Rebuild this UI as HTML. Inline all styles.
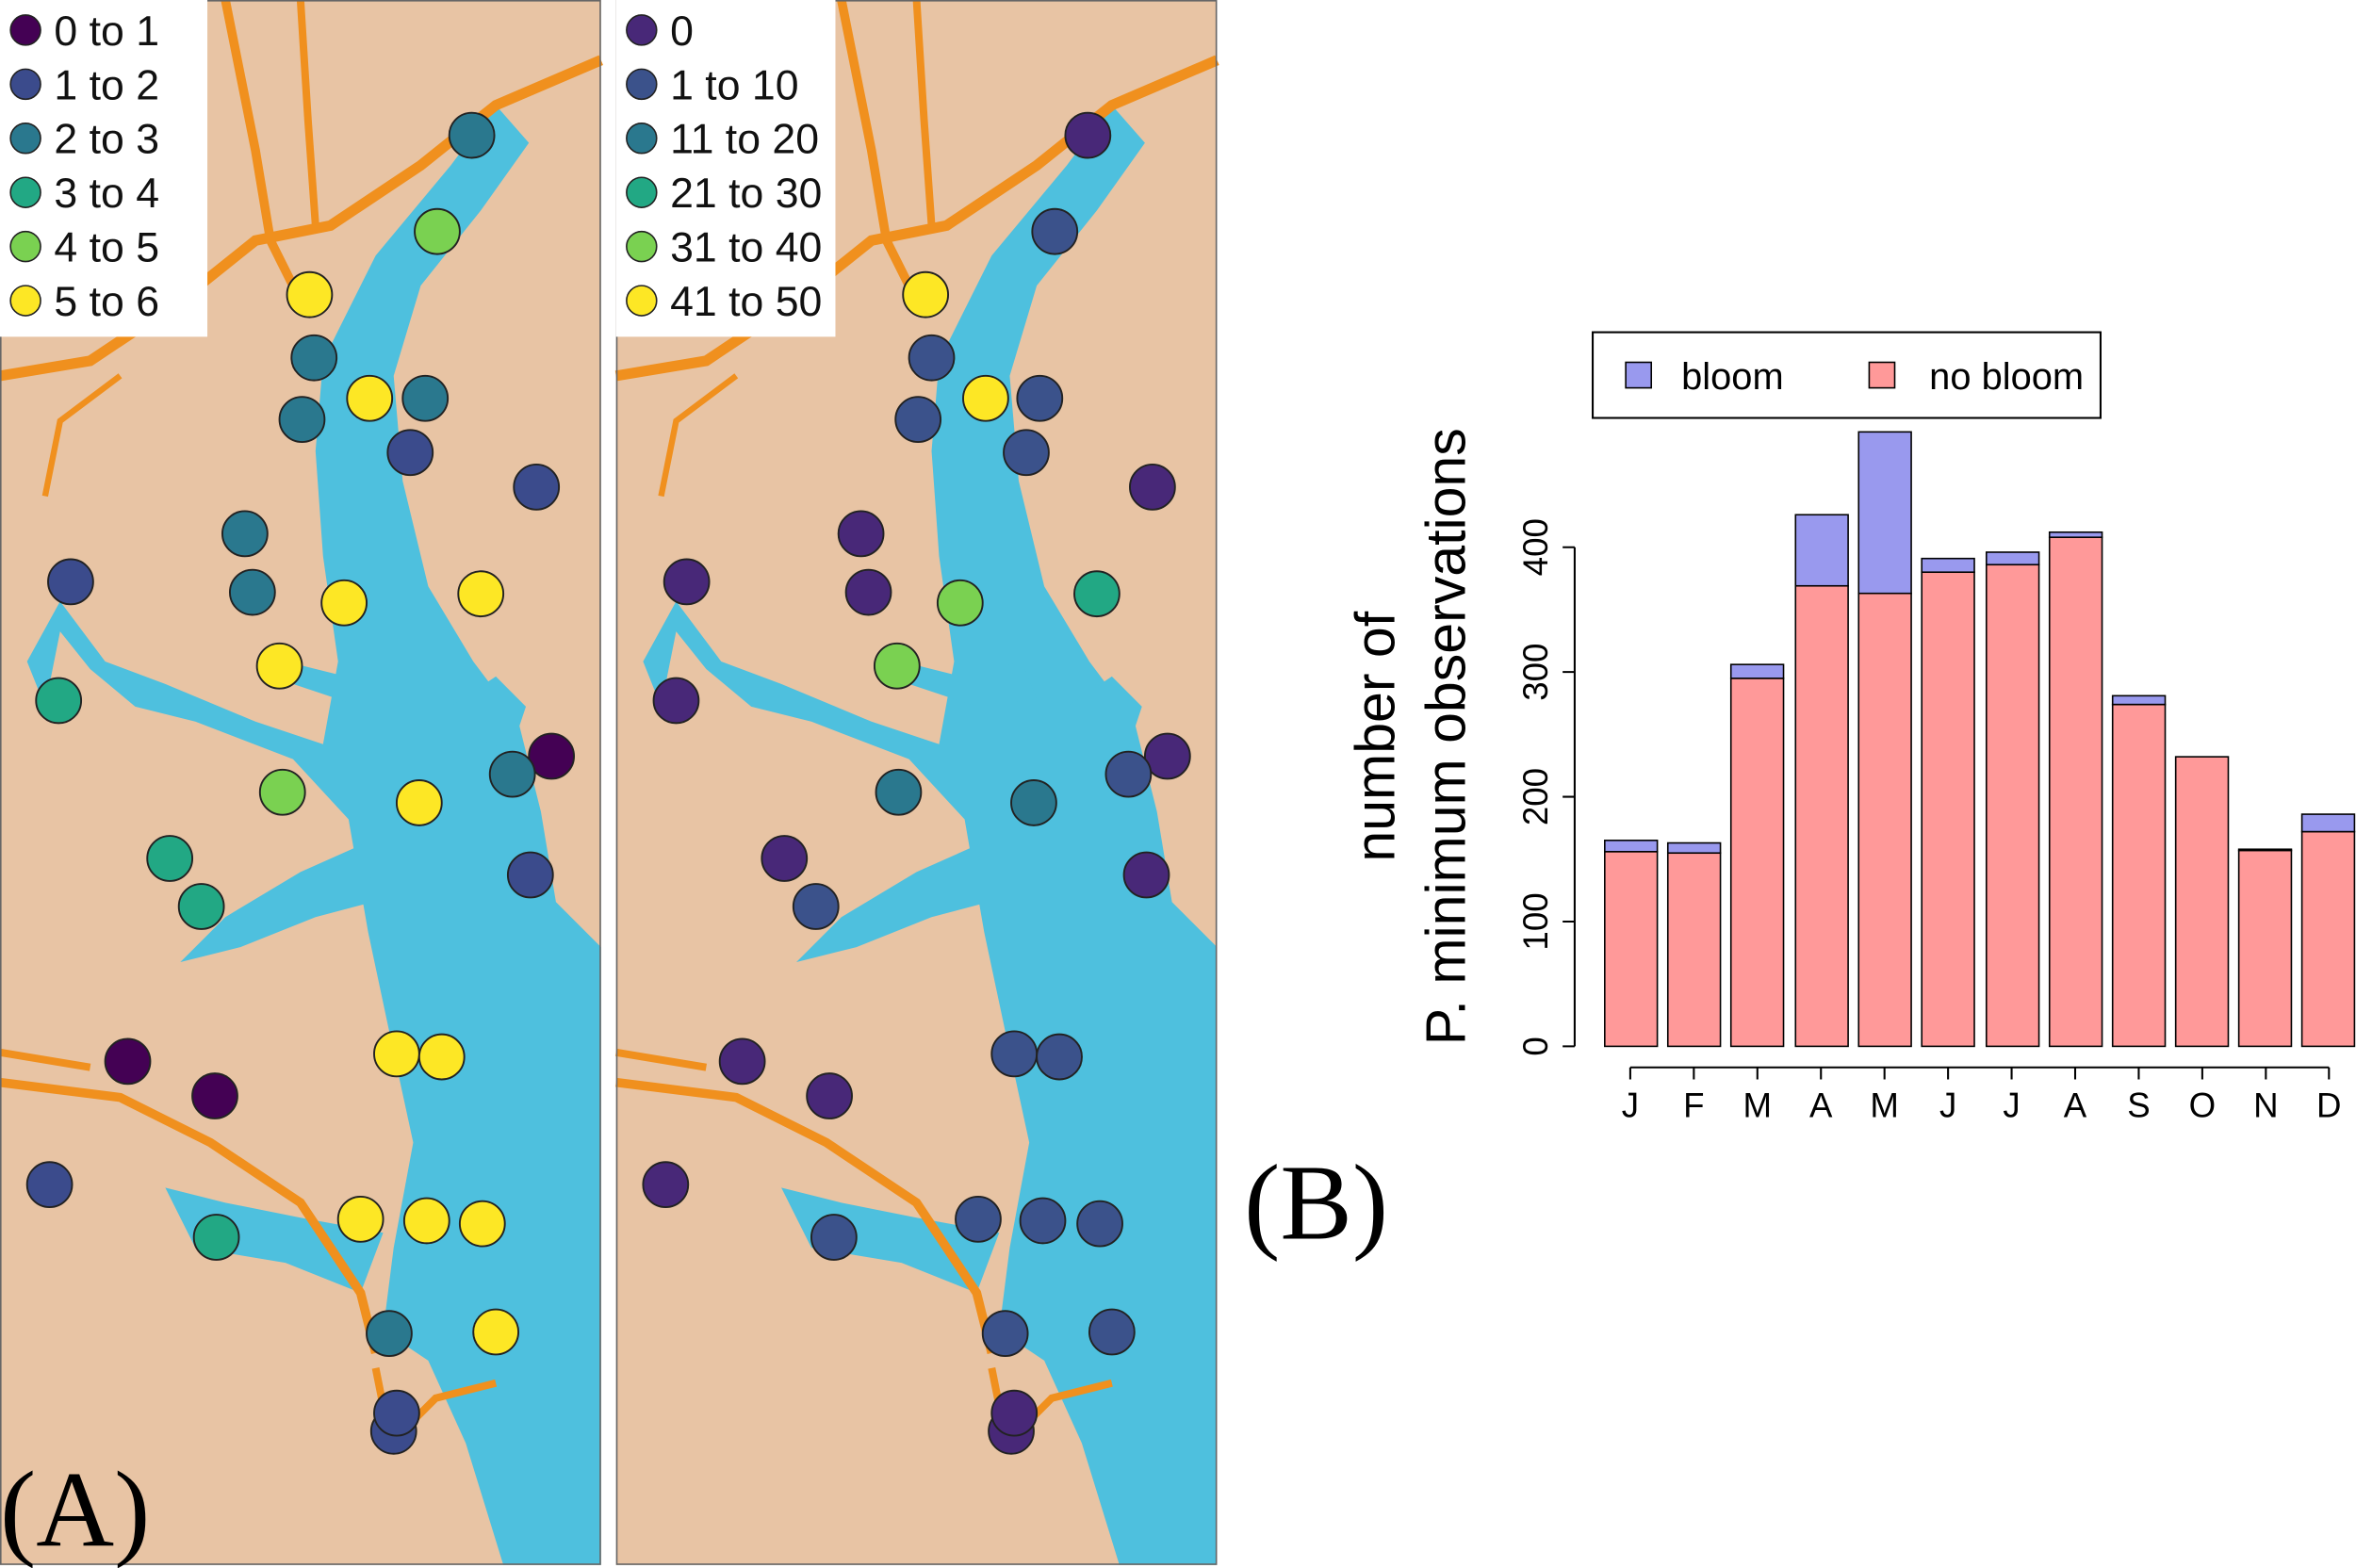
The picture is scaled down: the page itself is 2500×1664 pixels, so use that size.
<!DOCTYPE html>
<html><head><meta charset="utf-8"><style>
html,body{margin:0;padding:0;background:#fff;}
svg{display:block;}
text{font-family:"Liberation Sans",sans-serif;}
</style></head><body>
<svg width="2500" height="1664" viewBox="0 0 1568 1043" preserveAspectRatio="none" xmlns="http://www.w3.org/2000/svg">
<defs>
<g id="map">
<rect x="0" y="0" width="400" height="1041" fill="#e8c4a4"/>
<path d="M330,70 L352,95 L320,140 L280,190 L262,250 L268,320 L285,390 L315,440 L345,480 L360,540 L370,600 L400,630 L400,1041 L335,1041 L310,960 L285,905 L255,885 L262,830 L275,760 L262,700 L245,620 L232,545 L195,505 L130,480 L90,470 L60,445 L40,420 L30,470 L18,440 L40,400 L70,440 L110,455 L170,480 L215,495 L225,440 L215,370 L210,300 L215,240 L250,170 L300,110 Z" fill="#4ec0de"/>
<path d="M245,560 L200,580 L150,610 L120,640 L160,630 L210,610 L248,600 Z" fill="#4ec0de"/>
<path d="M270,440 L230,450 L190,440 L195,455 L240,470 L280,465 Z" fill="#4ec0de"/>
<path d="M300,470 L330,450 L350,470 L340,500 L315,490 Z" fill="#4ec0de"/>
<path d="M255,820 L200,810 L150,800 L110,790 L130,830 L190,840 L240,860 Z" fill="#4ec0de"/>
<path d="M0,720 L80,730 L140,760 L200,800 L240,860 L250,900" fill="none" stroke="#f0901e" stroke-width="6"/>
<path d="M0,700 L60,710" fill="none" stroke="#f0901e" stroke-width="5"/>
<path d="M0,250 L60,240 L120,200 L170,160 L220,150 L280,110 L330,70 L400,40" fill="none" stroke="#f0901e" stroke-width="7"/>
<path d="M150,0 L170,100 L180,160 L200,200" fill="none" stroke="#f0901e" stroke-width="6"/>
<path d="M200,0 L205,80 L210,150" fill="none" stroke="#f0901e" stroke-width="5"/>
<path d="M30,330 L40,280 L80,250" fill="none" stroke="#f0901e" stroke-width="4"/>
<path d="M250,910 L260,960 L290,930 L330,920" fill="none" stroke="#f0901e" stroke-width="5"/>
<rect x="0.5" y="0.5" width="399" height="1040" fill="none" stroke="#666" stroke-width="1"/>
</g>
</defs>
<rect width="1568" height="1043" fill="#fff"/>
<use href="#map" x="0" y="0"/>
<use href="#map" x="410" y="0"/>
<g stroke="#222" stroke-width="1.2">
<circle cx="314" cy="90" r="15" fill="#2a788e"/><circle cx="291" cy="154" r="15" fill="#7ad151"/>
<circle cx="206" cy="196" r="15" fill="#fde725"/><circle cx="209" cy="238" r="15" fill="#2a788e"/>
<circle cx="201" cy="279" r="15" fill="#2a788e"/><circle cx="246" cy="265" r="15" fill="#fde725"/>
<circle cx="283" cy="265" r="15" fill="#2a788e"/><circle cx="273" cy="301" r="15" fill="#3b4b8c"/>
<circle cx="357" cy="324" r="15" fill="#3b4b8c"/><circle cx="163" cy="355" r="15" fill="#2a788e"/>
<circle cx="168" cy="394" r="15" fill="#2a788e"/><circle cx="229" cy="401" r="15" fill="#fde725"/>
<circle cx="320" cy="395" r="15" fill="#fde725"/><circle cx="47" cy="387" r="15" fill="#3b4b8c"/>
<circle cx="186" cy="443" r="15" fill="#fde725"/><circle cx="39" cy="466" r="15" fill="#22a884"/>
<circle cx="367" cy="503" r="15" fill="#440154"/><circle cx="341" cy="515" r="15" fill="#2a788e"/>
<circle cx="188" cy="527" r="15" fill="#7ad151"/><circle cx="279" cy="534" r="15" fill="#fde725"/>
<circle cx="113" cy="571" r="15" fill="#22a884"/><circle cx="134" cy="603" r="15" fill="#22a884"/>
<circle cx="353" cy="582" r="15" fill="#3b4b8c"/><circle cx="264" cy="701" r="15" fill="#fde725"/>
<circle cx="294" cy="703" r="15" fill="#fde725"/><circle cx="85" cy="706" r="15" fill="#440154"/>
<circle cx="143" cy="729" r="15" fill="#440154"/><circle cx="33" cy="788" r="15" fill="#3b4b8c"/>
<circle cx="240" cy="811" r="15" fill="#fde725"/><circle cx="284" cy="812" r="15" fill="#fde725"/>
<circle cx="321" cy="814" r="15" fill="#fde725"/><circle cx="144" cy="823" r="15" fill="#22a884"/>
<circle cx="259" cy="887" r="15" fill="#2a788e"/><circle cx="330" cy="886" r="15" fill="#fde725"/>
<circle cx="262" cy="952" r="15" fill="#3b4b8c"/><circle cx="264" cy="940" r="15" fill="#3b4b8c"/>
<circle cx="724" cy="90" r="15" fill="#482878"/><circle cx="702" cy="154" r="15" fill="#3b528b"/>
<circle cx="616" cy="196" r="15" fill="#fde725"/><circle cx="620" cy="238" r="15" fill="#3b528b"/>
<circle cx="611" cy="279" r="15" fill="#3b528b"/><circle cx="656" cy="265" r="15" fill="#fde725"/>
<circle cx="692" cy="265" r="15" fill="#3b528b"/><circle cx="683" cy="301" r="15" fill="#3b528b"/>
<circle cx="767" cy="324" r="15" fill="#482878"/><circle cx="573" cy="355" r="15" fill="#482878"/>
<circle cx="578" cy="394" r="15" fill="#482878"/><circle cx="639" cy="401" r="15" fill="#7ad151"/>
<circle cx="730" cy="395" r="15" fill="#22a884"/><circle cx="457" cy="387" r="15" fill="#482878"/>
<circle cx="597" cy="443" r="15" fill="#7ad151"/><circle cx="450" cy="466" r="15" fill="#482878"/>
<circle cx="777" cy="503" r="15" fill="#482878"/><circle cx="751" cy="515" r="15" fill="#3b528b"/>
<circle cx="598" cy="527" r="15" fill="#2a788e"/><circle cx="688" cy="534" r="15" fill="#2a788e"/>
<circle cx="522" cy="571" r="15" fill="#482878"/><circle cx="543" cy="603" r="15" fill="#3b528b"/>
<circle cx="763" cy="582" r="15" fill="#482878"/><circle cx="675" cy="701" r="15" fill="#3b528b"/>
<circle cx="705" cy="703" r="15" fill="#3b528b"/><circle cx="494" cy="706" r="15" fill="#482878"/>
<circle cx="552" cy="729" r="15" fill="#482878"/><circle cx="443" cy="788" r="15" fill="#482878"/>
<circle cx="651" cy="811" r="15" fill="#3b528b"/><circle cx="694" cy="812" r="15" fill="#3b528b"/>
<circle cx="732" cy="814" r="15" fill="#3b528b"/><circle cx="555" cy="823" r="15" fill="#3b528b"/>
<circle cx="669" cy="887" r="15" fill="#3b528b"/><circle cx="740" cy="886" r="15" fill="#3b528b"/>
<circle cx="673" cy="952" r="15" fill="#482878"/><circle cx="675" cy="940" r="15" fill="#482878"/>
</g>
<rect x="0" y="0" width="138" height="224" fill="#fff"/>
<g stroke="#222" stroke-width="1">
<circle cx="17" cy="20" r="10" fill="#440154"/><circle cx="17" cy="56" r="10" fill="#3b4b8c"/>
<circle cx="17" cy="92" r="10" fill="#2a788e"/><circle cx="17" cy="128" r="10" fill="#22a884"/>
<circle cx="17" cy="164" r="10" fill="#7ad151"/><circle cx="17" cy="200" r="10" fill="#fde725"/>
</g>
<g font-size="28" fill="#111">
<text x="36" y="30">0 to 1</text><text x="36" y="66">1 to 2</text><text x="36" y="102">2 to 3</text>
<text x="36" y="138">3 to 4</text><text x="36" y="174">4 to 5</text><text x="36" y="210">5 to 6</text>
</g>
<rect x="410" y="0" width="146" height="224" fill="#fff"/>
<g stroke="#222" stroke-width="1">
<circle cx="427" cy="20" r="10" fill="#482878"/><circle cx="427" cy="56" r="10" fill="#3b528b"/>
<circle cx="427" cy="92" r="10" fill="#2a788e"/><circle cx="427" cy="128" r="10" fill="#22a884"/>
<circle cx="427" cy="164" r="10" fill="#7ad151"/><circle cx="427" cy="200" r="10" fill="#fde725"/>
</g>
<g font-size="28" fill="#111">
<text x="446" y="30">0</text><text x="446" y="66">1 to 10</text><text x="446" y="102">11 to 20</text>
<text x="446" y="138">21 to 30</text><text x="446" y="174">31 to 40</text><text x="446" y="210">41 to 50</text>
</g>
<text x="0" y="1028" font-size="72" fill="#000" style="font-family:'Liberation Serif',serif">(A)</text>
<text x="828" y="824" font-size="72" fill="#000" style="font-family:'Liberation Serif',serif">(B)</text>
<g stroke="#000" stroke-width="1">
<rect x="1068" y="566.5" width="35" height="129.5" fill="#ff9999"/><rect x="1068" y="559" width="35" height="7.5" fill="#9999ee"/>
<rect x="1110" y="567.4" width="35" height="128.6" fill="#ff9999"/><rect x="1110" y="560.7" width="35" height="6.7" fill="#9999ee"/>
<rect x="1152" y="451.2" width="35" height="244.8" fill="#ff9999"/><rect x="1152" y="442" width="35" height="9.2" fill="#9999ee"/>
<rect x="1195" y="389.7" width="35" height="306.3" fill="#ff9999"/><rect x="1195" y="342.4" width="35" height="47.3" fill="#9999ee"/>
<rect x="1237" y="394.7" width="35" height="301.3" fill="#ff9999"/><rect x="1237" y="287.3" width="35" height="107.4" fill="#9999ee"/>
<rect x="1279" y="380.6" width="35" height="315.4" fill="#ff9999"/><rect x="1279" y="371.5" width="35" height="9.1" fill="#9999ee"/>
<rect x="1322" y="375.6" width="35" height="320.4" fill="#ff9999"/><rect x="1322" y="367.3" width="35" height="8.3" fill="#9999ee"/>
<rect x="1364" y="357.4" width="35" height="338.6" fill="#ff9999"/><rect x="1364" y="354" width="35" height="3.4" fill="#9999ee"/>
<rect x="1406" y="468.6" width="35" height="227.4" fill="#ff9999"/><rect x="1406" y="462.8" width="35" height="5.8" fill="#9999ee"/>
<rect x="1448" y="503.4" width="35" height="192.6" fill="#ff9999"/>
<rect x="1490" y="565.7" width="35" height="130.3" fill="#ff9999"/><rect x="1490" y="564.9" width="35" height="0.8" fill="#9999ee"/>
<rect x="1532" y="553.2" width="35" height="142.8" fill="#ff9999"/><rect x="1532" y="541.6" width="35" height="11.6" fill="#9999ee"/>
</g>
<g stroke="#000" stroke-width="1.3" fill="none">
<path d="M1048,364 V696"/>
<path d="M1040,696 H1048 M1040,613 H1048 M1040,530 H1048 M1040,447 H1048 M1040,364 H1048"/>
<path d="M1085,710 H1550"/>
<path d="M1085,710 v8 M1127.3,710 v8 M1169.6,710 v8 M1211.9,710 v8 M1254.2,710 v8 M1296.5,710 v8 M1338.8,710 v8 M1381.1,710 v8 M1423.4,710 v8 M1465.7,710 v8 M1508,710 v8 M1550,710 v8"/>
</g>
<g font-size="23" fill="#000" text-anchor="middle">
<text transform="translate(1030,696) rotate(-90)">0</text>
<text transform="translate(1030,613) rotate(-90)">100</text>
<text transform="translate(1030,530) rotate(-90)">200</text>
<text transform="translate(1030,447) rotate(-90)">300</text>
<text transform="translate(1030,364) rotate(-90)">400</text>
<text x="1085" y="743">J</text><text x="1127.3" y="743">F</text><text x="1169.6" y="743">M</text>
<text x="1211.9" y="743">A</text><text x="1254.2" y="743">M</text><text x="1296.5" y="743">J</text>
<text x="1338.8" y="743">J</text><text x="1381.1" y="743">A</text><text x="1423.4" y="743">S</text>
<text x="1465.7" y="743">O</text><text x="1508" y="743">N</text><text x="1550" y="743">D</text>
</g>
<g font-size="37" fill="#000" text-anchor="middle">
<text transform="translate(928,490) rotate(-90)">number of</text>
<text transform="translate(975,490) rotate(-90)">P. minimum observations</text>
</g>
<rect x="1060" y="221" width="338" height="57" fill="#fff" stroke="#000" stroke-width="1.3"/>
<rect x="1082" y="241" width="17" height="17" fill="#9999ee" stroke="#000"/>
<text x="1119" y="259" font-size="25">bloom</text>
<rect x="1244" y="241" width="17" height="17" fill="#ff9999" stroke="#000"/>
<text x="1284" y="259" font-size="25">no bloom</text>
</svg>
</body></html>
